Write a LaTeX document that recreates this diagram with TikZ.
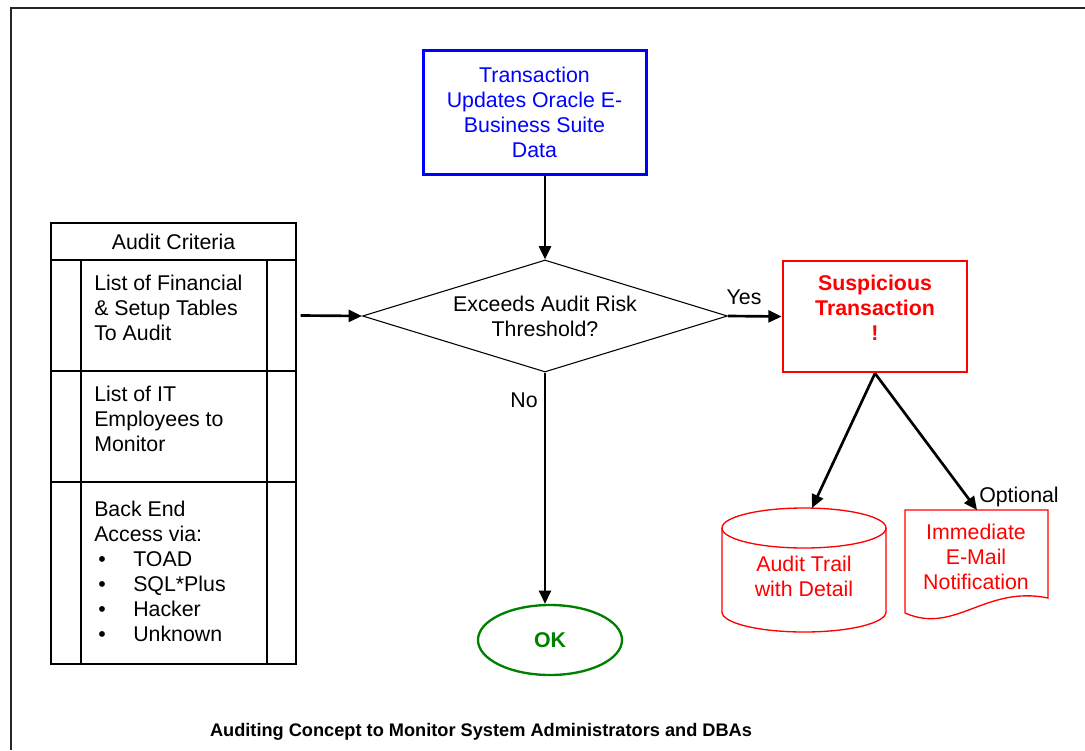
\documentclass[tikz,border=0pt]{standalone}
\usepackage{fontspec}
\setmainfont{Liberation Sans}
\usetikzlibrary{arrows.meta,shapes.geometric,positioning}
\definecolor{txnblue}{RGB}{0,0,255}
\definecolor{alertred}{RGB}{255,0,0}
\definecolor{okgreen}{RGB}{0,128,0}
\newcommand\bodyfont{\fontsize{16}{18.75}\selectfont}
\newcommand\bulletitem[1]{\makebox[29.25pt][l]{\hspace{3pt}\textbullet}#1}
\tikzset{
  flow/.style={line width=2pt,-{Triangle[length=10pt,width=9pt]}},
  txnbox/.style={draw=txnblue,line width=2.25pt,text=txnblue,align=center,
    minimum width=167.25pt,minimum height=93pt,font=\bodyfont},
  riskdiamond/.style={diamond,draw,line width=0.8pt,aspect=3.26,align=center,
    minimum width=273.75pt,minimum height=84pt,inner sep=0pt,font=\bodyfont},
  alertbox/.style={draw=alertred,line width=2pt,minimum width=138pt,minimum height=83.25pt},
  alerttext/.style={text=alertred,align=center,inner sep=0pt,font=\bodyfont\bfseries},
  okellipse/.style={ellipse,draw=okgreen,line width=1.75pt,text=okgreen,
    minimum width=108pt,minimum height=52.5pt,font=\bodyfont\bfseries},
  alertline/.style={draw=alertred,line width=1pt},
  rowtext/.style={anchor=base west,align=left,inner sep=0pt,font=\bodyfont},
  plain/.style={inner sep=0pt,font=\bodyfont},
}
\begin{document}
\begin{tikzpicture}[x=0.75pt,y=-0.75pt]
  \useasboundingbox (0,0) rectangle (1085,750);
  \draw[line width=1.5pt,black!85] (11,750) -- (11,8) -- (1085,8);

  % audit criteria panel
  \node[draw,line width=0.8pt,minimum width=183.75pt,minimum height=27.75pt,font=\bodyfont]
    (criteria) at (173.5,241.5) {Audit Criteria};
  \node[draw,line width=0.8pt,minimum width=183.75pt,minimum height=83.25pt]
    (tables) at (173.5,315.5) {};
  \node[draw,line width=0.8pt,minimum width=183.75pt,minimum height=83.25pt]
    (staff) at (173.5,426.5) {};
  \node[draw,line width=0.8pt,minimum width=183.75pt,minimum height=136.5pt]
    (access) at (173.5,573) {};
  \draw[line width=0.8pt] (81,260) -- (81,664) (267,260) -- (267,664);
  % base = last line
  \node[rowtext] at (94,340.5) {List of Financial\\\& Setup Tables\\To Audit};
  \node[rowtext] at (94,451.5) {List of IT\\Employees to\\Monitor};
  \node[rowtext] at (94,641.5) {Back End\\Access via:\\\bulletitem{TOAD}\\
    \bulletitem{SQL*Plus}\\\bulletitem{Hacker}\\\bulletitem{Unknown}};

  % main flow
  \node[txnbox] (txn) at (534.5,112) {Transaction\\Updates Oracle E-\\Business Suite\\Data};
  \node[riskdiamond] (risk) at (545,316) {Exceeds Audit Risk\\Threshold?};
  \node[alertbox] (susp) at (875,316.5) {};
  \node[alerttext,below=11pt of susp.north] (susptext) {Suspicious\\Transaction\\!};
  \node[okellipse] (ok) at (550,640) {OK};

  % audit trail store
  \draw[alertline] (722,528) -- (722,612)
    arc[start angle=180,end angle=360,x radius=61.5pt,y radius=15pt] -- (886,528);
  \draw[alertline] (804,528) ellipse [x radius=61.5pt,y radius=15pt];
  \coordinate (trailtop) at (812,508);
  \node[plain,text=alertred,align=center] (trail) at (804,576) {Audit Trail\\with Detail};

  % notification document
  \node[plain,text=alertred,align=center] (notify) at (976,557) {Immediate\\E-Mail\\Notification};
  \coordinate (notifytop) at (977,510);
  \draw[alertline] (905,613) -- (905,510) -- (1048,510) -- (1048,598)
    .. controls (985,585) and (955,635) .. (905,613);

  \draw[flow] (txn.south -| risk.north) -- (risk.north);
  \draw[flow] (tables.east) ++(3pt,0) -- (risk.west);
  \draw[flow] (risk.east) -- (susp.west);
  \draw[flow] (risk.south) -- (risk.south |- ok.north);
  \draw[flow] (susp.south) -- (trailtop);
  \draw[flow] (susp.south) -- (notifytop);

  \node[plain] (yes) at (744,297) {Yes};
  \node[plain] (no) at (524,400) {No};
  \node[plain] (optional) at (1019,497) {Optional};
  \node[inner sep=0pt,font=\fontsize{13.65}{16}\selectfont\bfseries] (caption) at (481,732)
    {Auditing Concept to Monitor System Administrators and DBAs};
\end{tikzpicture}
\end{document}
